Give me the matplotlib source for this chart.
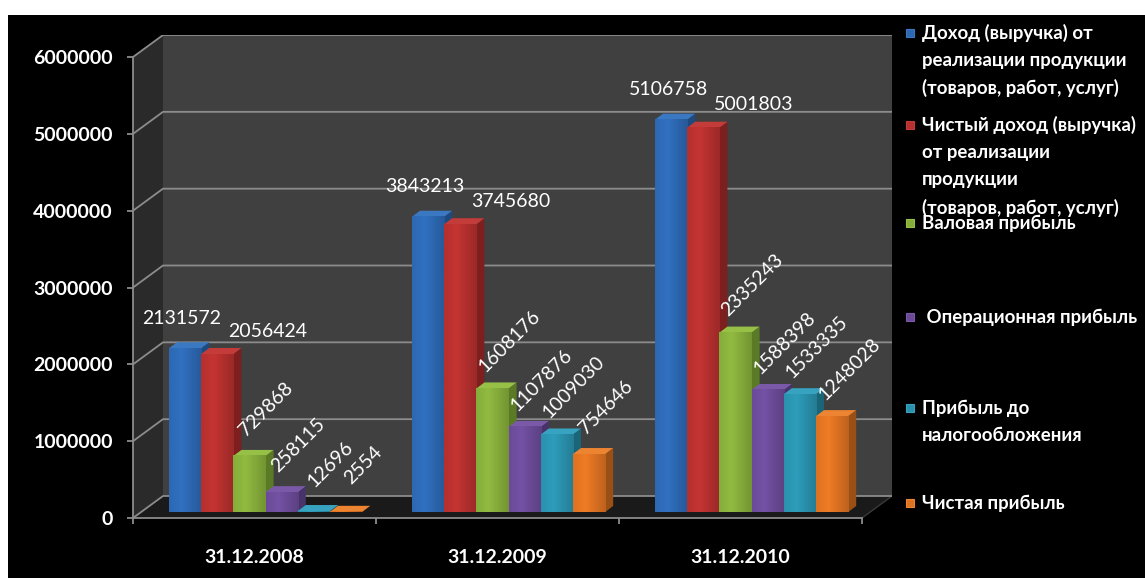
import numpy as np
import matplotlib.pyplot as plt
from matplotlib.colors import to_rgb
from matplotlib.patches import Polygon, Rectangle

# --- data -----------------------------------------------------------------
dates = ['31.12.2008', '31.12.2009', '31.12.2010']

revenue = [2131572, 3843213, 5106758]
net_revenue = [2056424, 3745680, 5001803]
gross_profit = [729868, 1608176, 2335243]
operating_profit = [258115, 1107876, 1588398]
profit_before_tax = [12696, 1009030, 1533335]
net_profit = [2554, 754646, 1248028]

series_names = [
    'Доход (выручка) от\nреализации продукции\n(товаров, работ, услуг)',
    'Чистый доход (выручка)\nот реализации\nпродукции\n(товаров, работ, услуг)',
    'Валовая прибыль',
    ' Операционная прибыль',
    'Прибыль до\nналогообложения',
    'Чистая прибыль',
]
series = [revenue, net_revenue, gross_profit, operating_profit,
          profit_before_tax, net_profit]
yticks = [0, 1000000, 2000000, 3000000, 4000000, 5000000, 6000000]

# front / side / top colours of each column
colors = [
    ('#2d68b2', '#1e4a80', '#3b78c2'),
    ('#b5302e', '#7c1f1e', '#c43c3a'),
    ('#86ad3b', '#5b7a26', '#96c046'),
    ('#6b4b98', '#48326a', '#7a5aa8'),
    ('#2a91ad', '#1b6579', '#37a3c0'),
    ('#dd7222', '#9a4f15', '#ec8432'),
]

# --- geometry (pixels) ------------------------------------------------------
W, H = 1145, 578
CAT_PX = 243          # width of one category on the front edge
VAL_PX = 76.83 / 1e6  # pixels per unit of value
WALL_DX, WALL_DY = 30, 22
BAR_START, BAR_W = 36, 32.2
BAR_DX, BAR_DY = 8, 6
BAR_LIFT = 6

px_x = 1 / CAT_PX
px_y = 1 / VAL_PX

FONT = 'Lato'
GRID = '#8c8c8c'
FS = 14
LEG_FS = 13.4


def fx(p):
    return p / W


def fy(p):
    return 1 - p / H


def shade(c, k):
    return np.clip(np.array(to_rgb(c)) * k, 0, 1)


fig = plt.figure(figsize=(W / 100, H / 100), dpi=100, facecolor='white')
fig.add_artist(Rectangle((fx(8), 0), 1 - fx(8), fy(15), transform=fig.transFigure,
                         facecolor='black', edgecolor='none', zorder=-10))

left, right = 133, 133 + 3 * CAT_PX + WALL_DX
top_px = 518 - 6e6 * VAL_PX - WALL_DY
ax = fig.add_axes([fx(left), fy(518), (right - left) / W, (518 - top_px) / H])
ax.set_facecolor('none')
n = len(dates)
wdx, wdy = WALL_DX * px_x, WALL_DY * px_y
ymax = yticks[-1]

# walls and floor
ax.add_patch(Polygon([(wdx, wdy), (n + wdx, wdy), (n + wdx, ymax + wdy), (wdx, ymax + wdy)],
                     facecolor='#404040', edgecolor='none', zorder=0))
ax.add_patch(Polygon([(0, 0), (wdx, wdy), (wdx, ymax + wdy), (0, ymax)],
                     facecolor='#2a2a2a', edgecolor='none', zorder=0))
ax.add_patch(Polygon([(0, 0), (n, 0), (n + wdx, wdy), (wdx, wdy)],
                     facecolor='#1a1a1a', edgecolor='none', zorder=0))
ax.plot([n, n + wdx], [0, wdy], color='#3a3a3a', lw=1, zorder=1)

# gridlines along the side and back walls
for t in yticks:
    ax.plot([0, wdx, n + wdx], [t, t + wdy, t + wdy], color=GRID, lw=1.3,
            zorder=1, solid_capstyle='butt')

# horizontal shading profile of a column face
prof = np.concatenate([np.linspace(1.0, 1.08, 12), np.linspace(1.08, 0.86, 20)])

# 3D columns
bdx, bdy = BAR_DX * px_x, BAR_DY * px_y
base = BAR_LIFT * px_y
z = 2
for g in range(n):
    for s, vals in enumerate(series):
        v = vals[g]
        x0 = g + (BAR_START + s * BAR_W) * px_x
        x1 = x0 + BAR_W * px_x
        top = base + v
        front_c, side_c, top_c = colors[s]
        ax.add_patch(Polygon([(x1, base), (x1 + bdx, base + bdy), (x1 + bdx, top + bdy), (x1, top)],
                             facecolor=side_c, edgecolor='none', zorder=z))
        ax.add_patch(Polygon([(x0, top), (x0 + bdx, top + bdy), (x1 + bdx, top + bdy), (x1, top)],
                             facecolor=top_c, edgecolor='none', zorder=z))
        face = np.array([[shade(front_c, k) for k in prof]])
        ax.imshow(face, extent=(x0, x1, base, top), aspect='auto',
                  interpolation='bilinear', zorder=z + 0.5)
        z += 1

        xc = (x0 + x1) / 2
        lbl = str(v)
        if s == 0:
            ax.text(xc - 3 * px_x, top + 30 * px_y, lbl, ha='center', va='center',
                    color='white', fontsize=FS, family=FONT, zorder=50)
        elif s == 1:
            ax.text(xc + 50 * px_x, top + 23 * px_y, lbl, ha='center', va='center',
                    color='white', fontsize=FS, family=FONT, zorder=50)
        else:
            ax.text(xc + 17 * px_x, top + 47 * px_y, lbl, ha='center', va='center',
                    rotation=45, rotation_mode='anchor', color='white',
                    fontsize=FS, family=FONT, zorder=50)

ax.set_xlim(0, n + wdx)
ax.set_ylim(0, ymax + wdy)

# axes
for sp in ['top', 'right']:
    ax.spines[sp].set_visible(False)
ax.spines['left'].set_bounds(0, ymax)
ax.spines['bottom'].set_bounds(0, n)
for sp in ['left', 'bottom']:
    ax.spines[sp].set_color(GRID)
    ax.spines[sp].set_linewidth(1.3)
    ax.spines[sp].set_zorder(60)

ax.set_yticks(yticks)
ax.set_yticklabels([str(t) for t in yticks])
ax.set_xticks(range(n + 1))
ax.set_xticklabels([''] * (n + 1))
ax.set_xticks([g + 0.5 for g in range(n)], minor=True)
ax.set_xticklabels(dates, minor=True)
ax.tick_params(axis='both', which='major', colors=GRID, length=4.5, width=1.3)
ax.tick_params(axis='y', pad=10, labelcolor='white', labelsize=FS)
ax.tick_params(axis='x', which='minor', length=0, pad=22, labelcolor='white', labelsize=FS)
for lab in ax.get_yticklabels() + ax.get_xticklabels(minor=True):
    lab.set_family(FONT)
    lab.set_fontweight('bold')

# legend drawn entry by entry
legend_tops = [33, 125, 223, 317, 408, 503]
LINE = 27.5
for s, (name, ty) in enumerate(zip(series_names, legend_tops)):
    fig.add_artist(Rectangle((fx(906), fy(ty + 4)), 8 / W, 8 / H, transform=fig.transFigure,
                             facecolor=colors[s][0], edgecolor=colors[s][2], lw=0.8))
    for k, line in enumerate(name.split('\n')):
        fig.text(fx(922), fy(ty + k * LINE), line, ha='left', va='center', color='white',
                 fontsize=LEG_FS, fontweight='bold', family=FONT)

fig.savefig('out.png', dpi=100, facecolor=fig.get_facecolor())
